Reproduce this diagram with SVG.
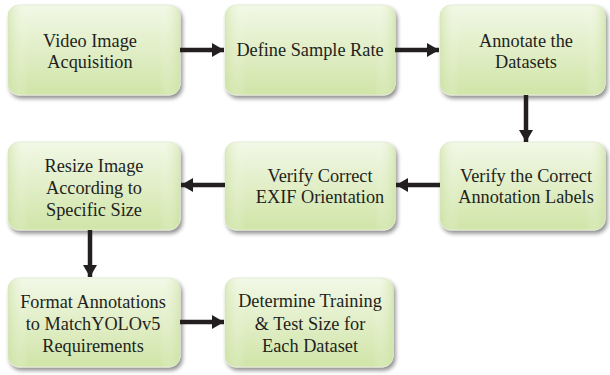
<svg xmlns="http://www.w3.org/2000/svg" width="610" height="375" viewBox="0 0 610 375">
  <defs>
    <linearGradient id="fillGreen" x1="0" y1="0" x2="0" y2="1">
      <stop offset="0" stop-color="#f2f8e6"/>
      <stop offset="0.45" stop-color="#e3efca"/>
      <stop offset="1" stop-color="#d0e5a8"/>
    </linearGradient>
    <linearGradient id="sideShade" x1="0" y1="0" x2="1" y2="0">
      <stop offset="0" stop-color="#c9e09e" stop-opacity="0.55"/>
      <stop offset="0.12" stop-color="#ffffff" stop-opacity="0"/>
      <stop offset="0.88" stop-color="#ffffff" stop-opacity="0"/>
      <stop offset="1" stop-color="#c9e09e" stop-opacity="0.55"/>
    </linearGradient>
    <filter id="shadow" x="-10%" y="-10%" width="125%" height="130%">
      <feGaussianBlur in="SourceAlpha" stdDeviation="2"/>
      <feOffset dx="1.5" dy="2.5"/>
      <feComponentTransfer><feFuncA type="linear" slope="0.45"/></feComponentTransfer>
      <feMerge><feMergeNode/><feMergeNode in="SourceGraphic"/></feMerge>
    </filter>
    <marker id="head" viewBox="0 0 12 14" refX="12" refY="7" markerWidth="12" markerHeight="14" markerUnits="userSpaceOnUse" orient="auto">
      <path d="M0,0 L12,7 L0,14 Z" fill="#231f20"/>
    </marker>
  </defs>
  <style>
    .box { fill: url(#fillGreen); stroke: #e4ecd6; stroke-width: 1; filter: url(#shadow); }
    .shade { fill: url(#sideShade); }
    .lbl { font-family: 'Liberation Serif', serif; font-size: 18.3px; fill: #231f20; text-anchor: middle; }
    .conn { stroke: #231f20; stroke-width: 4.5; fill: none; marker-end: url(#head); }
  </style>
  <rect width="610" height="375" fill="#ffffff"/>

  <!-- row 1 -->
  <g id="n1">
    <rect class="box" x="8" y="5" width="172" height="90" rx="11"/>
    <rect class="shade" x="8" y="5" width="172" height="90" rx="11"/>
    <text class="lbl" x="90" y="47">Video Image</text>
    <text class="lbl" x="90" y="68">Acquisition</text>
  </g>
  <g id="n2">
    <rect class="box" x="225" y="5" width="170" height="90" rx="11"/>
    <rect class="shade" x="225" y="5" width="170" height="90" rx="11"/>
    <text class="lbl" x="310" y="56">Define Sample Rate</text>
  </g>
  <g id="n3">
    <rect class="box" x="440" y="5" width="165" height="90" rx="11"/>
    <rect class="shade" x="440" y="5" width="165" height="90" rx="11"/>
    <text class="lbl" x="526" y="47">Annotate the</text>
    <text class="lbl" x="526" y="68">Datasets</text>
  </g>

  <!-- row 2 -->
  <g id="n4">
    <rect class="box" x="440" y="142" width="165" height="88" rx="11"/>
    <rect class="shade" x="440" y="142" width="165" height="88" rx="11"/>
    <text class="lbl" x="526" y="182">Verify the Correct</text>
    <text class="lbl" x="526" y="203">Annotation Labels</text>
  </g>
  <g id="n5">
    <rect class="box" x="225" y="142" width="170" height="88" rx="11"/>
    <rect class="shade" x="225" y="142" width="170" height="88" rx="11"/>
    <text class="lbl" x="320" y="182">Verify Correct</text>
    <text class="lbl" x="320" y="203">EXIF Orientation</text>
  </g>
  <g id="n6">
    <rect class="box" x="8" y="142" width="172" height="88" rx="11"/>
    <rect class="shade" x="8" y="142" width="172" height="88" rx="11"/>
    <text class="lbl" x="94" y="172">Resize Image</text>
    <text class="lbl" x="94" y="194">According to</text>
    <text class="lbl" x="94" y="216">Specific Size</text>
  </g>

  <!-- row 3 -->
  <g id="n7">
    <rect class="box" x="8" y="278" width="172" height="89" rx="11"/>
    <rect class="shade" x="8" y="278" width="172" height="89" rx="11"/>
    <text class="lbl" x="93" y="308">Format Annotations</text>
    <text class="lbl" x="93" y="330">to MatchYOLOv5</text>
    <text class="lbl" x="93" y="352">Requirements</text>
  </g>
  <g id="n8">
    <rect class="box" x="225" y="278" width="168" height="89" rx="11"/>
    <rect class="shade" x="225" y="278" width="168" height="89" rx="11"/>
    <text class="lbl" x="310" y="307">Determine Training</text>
    <text class="lbl" x="310" y="330">&amp; Test Size for</text>
    <text class="lbl" x="310" y="352">Each Dataset</text>
  </g>

  <g id="connectors">
    <line class="conn" x1="180" y1="50" x2="224" y2="50"/>
    <line class="conn" x1="395" y1="50" x2="439" y2="50"/>
    <line class="conn" x1="526" y1="95" x2="526" y2="142"/>
    <line class="conn" x1="440" y1="185" x2="396" y2="185"/>
    <line class="conn" x1="225" y1="185" x2="181" y2="185"/>
    <line class="conn" x1="90" y1="230" x2="90" y2="277"/>
    <line class="conn" x1="180" y1="322" x2="224" y2="322"/>
  </g>
</svg>
